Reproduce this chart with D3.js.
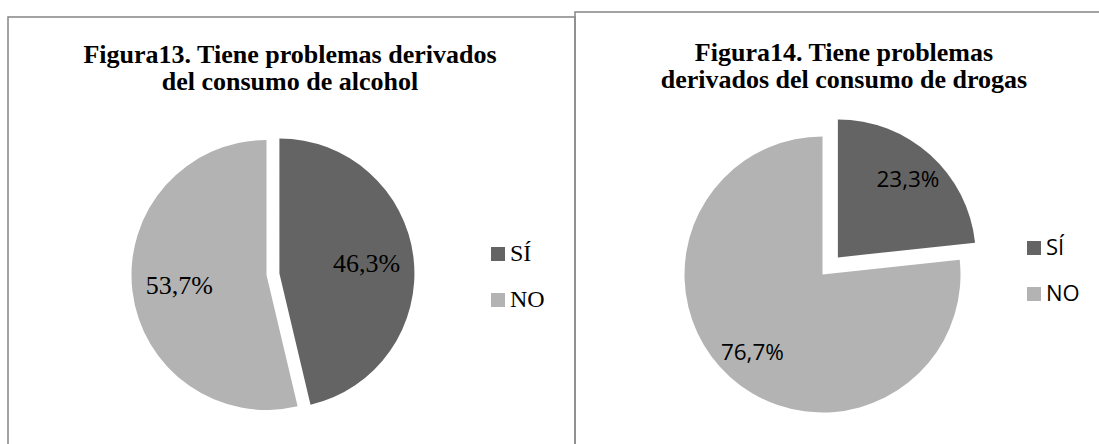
<!DOCTYPE html>
<html>
<head>
<meta charset="utf-8">
<script src="https://cdn.jsdelivr.net/npm/d3@7"></script>
<style>
  body { margin: 0; background: #fff; }
  svg { display: block; }
</style>
</head>
<body>
<svg id="chart" width="1099" height="444"></svg>
<script>
// data
const categories = ["SÍ", "NO"];
const alcohol = [46.3, 53.7];
const drogas = [23.3, 76.7];
const title13 = ["Figura13. Tiene problemas derivados", "del consumo de alcohol"];
const title14 = ["Figura14. Tiene problemas", "derivados del consumo de drogas"];

const width = 1099, height = 444;
const svg = d3.select("#chart");

const color = d3.scaleOrdinal()
    .domain(categories)
    .range(["#646464", "#b3b3b3"]);

const es = d3.formatLocale({decimal: ",", thousands: ".", grouping: [3], currency: ["", "€"]});
const pct = v => es.format(".1f")(v) + "%";

const pie = d3.pie().sort(null).value(d => d.value);

// panel frames
svg.append("rect")
    .attr("x", 8).attr("y", 17)
    .attr("width", 567).attr("height", 460)
    .attr("fill", "none").attr("stroke", "#8c8c8c").attr("stroke-width", 1.6);
svg.append("rect")
    .attr("x", 575).attr("y", 12)
    .attr("width", 560).attr("height", 460)
    .attr("fill", "none").attr("stroke", "#8c8c8c").attr("stroke-width", 1.6);

const charts = [
    {values: alcohol, title: title13, cx: 266.5, cy: 275, r: 135, explode: 13, labelR: 0.65,
     titleX: 290, titleY: [63, 90],
     font: "'Liberation Serif', 'Times New Roman', serif", labelSize: 26, legendSize: 24,
     legendX: 491, legendY: [247, 293], sq: 14},
    {values: drogas, title: title14, cx: 822.5, cy: 274.5, r: 138, explode: 23, labelR: 0.76,
     titleX: 844, titleY: [61, 88],
     font: "'Open Sans', 'Liberation Sans', sans-serif", labelSize: 22.5, legendSize: 22,
     legendX: 1027, legendY: [241, 287], sq: 14}
];

charts.forEach(c => {
    const data = categories.map((k, i) => ({key: k, value: c.values[i]}));
    const arcs = pie(data);
    const arc = d3.arc().innerRadius(0).outerRadius(c.r);

    const g = svg.append("g")
        .attr("transform", `translate(${c.cx},${c.cy})`);

    // shift the SÍ slice out along its bisector
    const offset = (d, i) => {
        if (i !== 0) return [0, 0];
        const a = (d.startAngle + d.endAngle) / 2;
        return [Math.sin(a) * c.explode, -Math.cos(a) * c.explode];
    };

    const slice = g.selectAll("g.slice")
        .data(arcs)
        .join("g")
            .attr("class", "slice")
            .attr("transform", (d, i) => `translate(${offset(d, i)})`);

    slice.append("path")
        .attr("d", arc)
        .attr("fill", d => color(d.data.key));

    slice.append("text")
        .attr("transform", d => {
            const a = (d.startAngle + d.endAngle) / 2;
            const rr = c.r * c.labelR;
            return `translate(${Math.sin(a) * rr},${-Math.cos(a) * rr})`;
        })
        .attr("text-anchor", "middle")
        .attr("dy", "0.35em")
        .style("font-family", c.font)
        .style("font-size", c.labelSize + "px")
        .attr("fill", "#000")
        .text(d => pct(d.data.value));

    // title
    svg.append("g")
        .selectAll("text")
        .data(c.title)
        .join("text")
            .attr("x", c.titleX)
            .attr("y", (d, i) => c.titleY[i])
            .attr("text-anchor", "middle")
            .style("font-family", "'Liberation Serif', 'Times New Roman', serif")
            .style("font-weight", "bold")
            .style("font-size", "26px")
            .text(d => d);

    // legend
    const leg = svg.append("g")
        .selectAll("g")
        .data(categories)
        .join("g")
            .attr("transform", (d, i) => `translate(${c.legendX},${c.legendY[i]})`);
    leg.append("rect")
        .attr("width", c.sq).attr("height", c.sq)
        .attr("fill", d => color(d));
    leg.append("text")
        .attr("x", c.sq + 5)
        .attr("y", c.sq)
        .style("font-family", c.font)
        .style("font-size", c.legendSize + "px")
        .text(d => d);
});
</script>
</body>
</html>
